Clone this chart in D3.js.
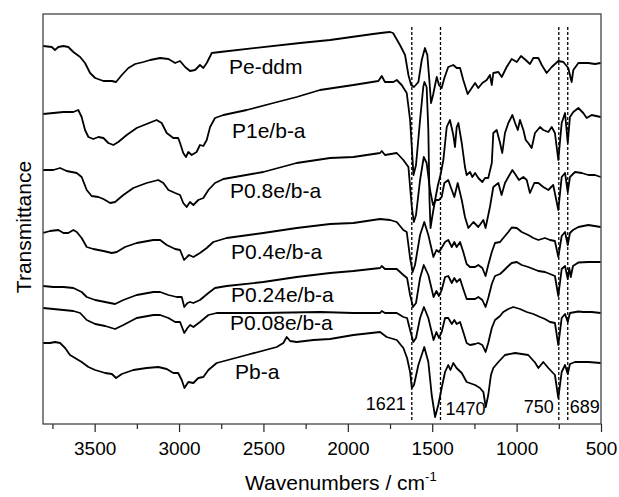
<!DOCTYPE html>
<html>
<head>
<meta charset="utf-8">
<script src="https://cdn.jsdelivr.net/npm/d3@7"></script>
<style>
  body { margin: 0; background: #fff; }
  text { font-family: "Liberation Sans", Arial, sans-serif; fill: #000; }
</style>
</head>
<body>
<script>
// FTIR spectra: [wavenumber (cm-1), transmittance (a.u., stacked)]
var peDdm = [[3805,37.8],[3754,37.7],[3735,37.4],[3715,37.7],[3685,37.8],[3656,37.7],[3626,37.2],[3586,36.7],[3557,36.1],[3527,35.1],[3497,34.6],[3448,34.3],[3398,34.3],[3373,34.2],[3339,34.9],[3300,35.6],[3260,36.0],[3211,36.2],[3171,36.4],[3112,36.6],[3063,36.5],[3023,36.1],[2994,36.3],[2964,35.7],[2935,35.3],[2905,35.4],[2876,35.9],[2856,35.6],[2836,36.1],[2806,37.1],[2757,37.2],[2283,38.1],[2105,38.4],[1851,39.0],[1780,39.15],[1750,39.2],[1732,39.1],[1691,37.9],[1661,36.9],[1641,34.9],[1625,33.9],[1608,33.7],[1582,34.2],[1562,36.4],[1543,37.6],[1529,36.9],[1517,34.4],[1507,32.1],[1495,32.9],[1483,33.9],[1473,34.7],[1460,33.9],[1444,33.6],[1428,34.6],[1405,35.7],[1375,35.9],[1355,35.6],[1335,35.6],[1316,34.4],[1290,33.0],[1266,33.6],[1246,34.1],[1227,33.6],[1203,34.1],[1177,34.4],[1158,34.9],[1147,33.9],[1138,35.1],[1108,35.2],[1088,34.7],[1059,35.7],[1029,36.5],[999,36.2],[974,36.8],[946,36.4],[921,36.0],[901,36.6],[871,36.6],[851,35.9],[822,35.1],[792,35.7],[753,36.3],[723,36.2],[694,35.6],[674,34.2],[664,35.4],[634,36.1],[575,36.1],[536,36.0],[502,36.1]];

var p1e = [[3805,31.0],[3745,31.1],[3685,31.2],[3626,31.2],[3597,31.4],[3577,30.7],[3557,29.4],[3537,28.7],[3508,28.5],[3478,28.7],[3448,28.6],[3419,28.1],[3389,27.9],[3360,28.2],[3310,28.9],[3251,29.6],[3192,30.0],[3133,30.4],[3103,30.1],[3073,29.1],[3034,28.6],[3005,28.6],[2994,28.1],[2975,27.1],[2959,26.7],[2945,27.2],[2925,26.9],[2896,27.2],[2876,27.9],[2856,27.8],[2836,28.4],[2816,29.7],[2787,30.6],[2737,30.9],[2599,31.4],[2441,32.1],[2303,32.7],[2165,33.4],[1967,33.9],[1819,34.3],[1799,34.8],[1780,34.2],[1730,34.2],[1710,34.4],[1681,33.9],[1651,33.1],[1631,30.4],[1611,24.9],[1596,25.9],[1572,30.4],[1553,33.7],[1546,34.2],[1533,33.7],[1523,29.4],[1516,22.4],[1510,19.6],[1501,20.6],[1483,22.4],[1466,23.9],[1451,24.9],[1434,26.4],[1414,29.7],[1395,30.4],[1375,28.9],[1365,27.7],[1355,29.7],[1345,30.1],[1325,28.1],[1306,25.7],[1296,24.9],[1276,25.2],[1262,24.7],[1246,25.1],[1227,24.6],[1203,24.2],[1187,24.6],[1168,24.6],[1147,26.1],[1138,29.1],[1118,29.4],[1098,28.1],[1085,27.1],[1069,29.1],[1049,30.1],[1025,30.9],[1009,30.1],[993,29.4],[980,30.4],[960,29.4],[946,28.4],[931,28.1],[911,27.6],[891,29.1],[861,29.7],[842,29.4],[812,29.2],[792,29.7],[773,29.1],[753,26.4],[733,30.1],[713,31.1],[697,28.1],[684,30.7],[664,31.2],[634,31.6],[605,31.1],[585,30.6],[555,30.9],[502,30.7]];

var p08e = [[3805,25.4],[3745,25.4],[3705,25.6],[3666,25.3],[3606,25.1],[3577,24.7],[3547,23.4],[3518,22.8],[3478,22.7],[3448,22.5],[3408,22.1],[3379,22.2],[3330,22.9],[3271,23.6],[3192,24.1],[3123,24.4],[3093,24.1],[3063,23.4],[3023,23.1],[2994,22.9],[2975,22.1],[2955,21.7],[2935,22.2],[2915,21.9],[2886,22.4],[2856,22.6],[2826,23.4],[2787,24.1],[2737,24.5],[2501,25.2],[2303,26.1],[2105,26.6],[1967,26.7],[1809,27.1],[1799,27.3],[1780,26.9],[1710,27.1],[1671,26.4],[1641,25.7],[1621,21.7],[1609,20.2],[1596,20.9],[1572,24.4],[1550,26.7],[1533,26.1],[1513,23.4],[1495,21.9],[1477,22.4],[1460,22.4],[1444,22.7],[1428,24.1],[1405,24.4],[1384,23.4],[1369,22.7],[1349,24.1],[1325,22.4],[1306,20.7],[1286,19.6],[1256,20.2],[1227,19.7],[1197,20.4],[1184,19.6],[1158,21.7],[1138,23.7],[1108,24.1],[1089,22.9],[1069,24.1],[1049,24.7],[1025,25.4],[1005,24.9],[986,24.4],[960,24.7],[940,24.4],[921,23.1],[895,24.1],[871,24.1],[842,23.7],[812,23.4],[783,23.9],[753,21.4],[733,24.7],[713,25.1],[697,23.2],[684,24.7],[654,25.2],[614,25.1],[575,24.9],[536,24.9],[502,24.7]];

var p04e = [[3805,19.1],[3764,19.3],[3715,19.4],[3685,19.1],[3656,19.1],[3626,19.4],[3606,19.2],[3577,18.6],[3547,17.7],[3508,17.5],[3448,17.3],[3398,17.1],[3369,17.2],[3320,17.7],[3251,18.1],[3152,18.4],[3112,18.4],[3073,17.9],[3023,17.5],[2994,17.4],[2970,16.4],[2953,16.7],[2941,16.9],[2915,16.7],[2876,17.1],[2836,17.6],[2797,18.2],[2718,18.6],[2501,19.1],[2303,19.6],[2105,20.0],[1967,20.1],[1809,20.5],[1750,20.4],[1710,20.2],[1671,19.4],[1651,19.2],[1631,16.6],[1616,15.2],[1602,15.9],[1572,18.9],[1547,20.2],[1523,18.9],[1493,16.7],[1475,17.4],[1460,17.2],[1445,17.6],[1424,18.2],[1405,18.4],[1384,17.7],[1369,18.2],[1355,17.7],[1335,18.2],[1316,17.2],[1296,16.0],[1276,15.7],[1246,15.7],[1227,15.9],[1203,15.6],[1184,14.8],[1168,15.9],[1147,17.2],[1128,18.1],[1098,18.2],[1079,18.6],[1049,19.2],[1029,19.65],[999,19.6],[970,19.2],[931,18.9],[901,18.6],[871,18.4],[832,18.6],[802,18.4],[773,18.3],[753,16.7],[733,18.8],[713,19.2],[697,17.9],[684,19.1],[666,19.4],[634,19.7],[575,19.9],[502,19.7]];

var p024e = [[3805,13.8],[3745,13.7],[3685,13.7],[3626,13.6],[3577,13.2],[3547,12.7],[3497,12.4],[3438,12.2],[3379,12.0],[3330,12.4],[3251,12.9],[3152,13.2],[3112,13.2],[3063,12.9],[3014,12.7],[2984,12.7],[2969,11.7],[2950,12.1],[2935,12.2],[2915,12.1],[2876,12.4],[2826,13.1],[2787,13.6],[2718,13.8],[2501,14.2],[2303,14.7],[2105,15.1],[1967,15.3],[1809,15.6],[1799,15.8],[1780,15.5],[1710,15.5],[1671,14.9],[1649,14.6],[1631,12.9],[1614,11.7],[1596,12.1],[1572,14.6],[1550,15.9],[1523,14.9],[1492,12.7],[1475,13.3],[1460,12.8],[1444,13.4],[1424,14.7],[1405,14.8],[1384,14.1],[1369,14.6],[1355,14.2],[1335,14.5],[1316,13.5],[1296,12.5],[1276,12.5],[1246,12.5],[1227,12.7],[1203,12.4],[1184,11.7],[1168,12.6],[1147,14.0],[1128,14.8],[1098,15.0],[1079,15.3],[1049,15.8],[1029,16.1],[999,16.2],[970,15.9],[931,15.7],[901,15.5],[871,15.3],[832,15.2],[802,15.0],[773,14.8],[753,12.8],[733,15.5],[713,15.8],[697,14.5],[688,15.6],[679,14.7],[666,15.8],[634,16.15],[575,16.2],[502,16.2]];

var p008e = [[3805,11.6],[3745,11.5],[3685,11.4],[3626,11.3],[3586,11.1],[3547,10.4],[3497,10.0],[3438,9.8],[3379,9.5],[3330,9.9],[3251,10.6],[3152,10.9],[3112,10.9],[3063,10.6],[3023,10.2],[2994,10.2],[2969,9.1],[2950,9.6],[2935,9.9],[2915,9.7],[2876,10.2],[2826,10.9],[2777,11.1],[2501,11.1],[2165,11.2],[1967,11.1],[1809,11.1],[1799,11.3],[1780,11.1],[1710,11.1],[1671,10.7],[1649,10.6],[1631,9.4],[1612,8.2],[1596,8.6],[1572,10.6],[1549,11.7],[1523,10.6],[1492,8.4],[1475,9.2],[1460,8.6],[1444,9.2],[1424,10.6],[1405,10.6],[1384,10.0],[1369,10.4],[1355,10.0],[1335,10.2],[1316,9.2],[1296,8.1],[1276,7.9],[1246,8.0],[1227,8.1],[1203,7.9],[1184,7.2],[1168,8.1],[1147,9.6],[1128,10.4],[1098,10.8],[1079,11.2],[1049,11.5],[1020,11.7],[980,11.5],[940,11.2],[901,11.0],[861,10.7],[832,10.5],[802,10.2],[773,10.1],[753,7.9],[733,10.6],[713,11.0],[697,10.2],[684,11.1],[634,11.25],[605,11.2],[555,11.2],[502,11.1]];

var pba = [[3805,8.1],[3764,8.1],[3735,8.2],[3705,8.1],[3675,7.6],[3646,6.9],[3616,6.6],[3577,6.2],[3537,5.7],[3497,5.4],[3438,5.1],[3398,5.0],[3373,4.6],[3339,5.0],[3271,5.4],[3192,5.6],[3123,5.7],[3073,5.5],[3034,5.1],[3005,5.1],[2984,4.4],[2968,3.6],[2945,4.2],[2915,4.1],[2886,4.6],[2856,4.7],[2826,5.4],[2777,6.1],[2599,6.9],[2421,7.7],[2382,8.1],[2362,8.7],[2342,8.3],[2303,8.2],[2204,8.4],[2105,8.5],[1967,8.9],[1809,9.2],[1770,8.7],[1710,8.4],[1671,7.6],[1649,6.6],[1631,5.2],[1621,3.6],[1608,3.9],[1582,5.9],[1547,7.7],[1523,6.2],[1503,2.9],[1483,0.7],[1464,1.9],[1444,3.6],[1424,5.2],[1405,5.9],[1392,5.4],[1375,6.1],[1356,5.6],[1325,5.1],[1296,4.2],[1246,3.9],[1217,3.6],[1197,3.2],[1183,1.7],[1168,2.9],[1152,4.9],[1138,5.6],[1108,6.2],[1069,6.9],[1009,7.1],[931,6.9],[891,6.15],[871,5.6],[842,6.2],[812,5.6],[773,4.9],[753,2.6],[733,5.2],[713,5.9],[697,5.0],[684,6.0],[654,6.2],[575,6.2],[502,6.1]];

var seriesNames = ["Pe-ddm", "P1e/b-a", "P0.8e/b-a", "P0.4e/b-a", "P0.24e/b-a", "P0.08e/b-a", "Pb-a"];
var seriesData = [peDdm, p1e, p08e, p04e, p024e, p008e, pba];

var xMajorTicks = [3500, 3000, 2500, 2000, 1500, 1000, 500];
var xMinorTicks = [3750, 3250, 2750, 2250, 1750, 1250, 750];

// dotted marker lines (where they sit in the figure) and their labels
var markerWn = [1621, 1451, 750, 697];
var markerLabels = ["1621", "1470", "750", "689"];

var svgWidth = 619;
var svgHeight = 497;

var chartMargin = { top: 14, right: 18, bottom: 73, left: 43 };
var chartWidth = svgWidth - chartMargin.left - chartMargin.right;
var chartHeight = svgHeight - chartMargin.top - chartMargin.bottom;

var svg = d3.select("body")
  .append("svg")
  .attr("width", svgWidth)
  .attr("height", svgHeight);

var chartGroup = svg.append("g")
  .attr("transform", `translate(${chartMargin.left}, ${chartMargin.top})`);

var xScale = d3.scaleLinear()
  .domain([3806, 500])
  .range([0, chartWidth]);

var yScale = d3.scaleLinear()
  .domain([0, 41])
  .range([chartHeight, 0]);

chartGroup.append("clipPath")
  .attr("id", "plot-clip")
  .append("rect")
  .attr("width", chartWidth)
  .attr("height", chartHeight);

// bottom axis: major ticks with labels, minor ticks without
var bottomAxis = d3.axisBottom(xScale)
  .tickValues(xMajorTicks)
  .tickSize(8)
  .tickPadding(9.5)
  .tickFormat(d3.format("d"));

var minorAxis = d3.axisBottom(xScale)
  .tickValues(xMinorTicks)
  .tickSize(5)
  .tickFormat("");

var xAxisGroup = chartGroup.append("g")
  .attr("transform", `translate(0, ${chartHeight})`)
  .call(bottomAxis);

var minorGroup = chartGroup.append("g")
  .attr("transform", `translate(0, ${chartHeight})`)
  .call(minorAxis);

[xAxisGroup, minorGroup].forEach(function(g) {
  g.select(".domain").remove();
  g.selectAll(".tick line").attr("stroke", "#222").attr("stroke-width", 1.2);
});
xAxisGroup.selectAll(".tick text")
  .style("font-size", "19px")
  .style("font-family", "'Liberation Sans', Arial, sans-serif")
  .attr("fill", "#000");

// dotted marker lines
chartGroup.selectAll(".marker")
  .data(markerWn)
  .enter()
  .append("line")
  .attr("class", "marker")
  .attr("x1", d => xScale(d))
  .attr("x2", d => xScale(d))
  .attr("y1", 13)
  .attr("y2", chartHeight - 4)
  .attr("stroke", "#000")
  .attr("stroke-width", 1.3)
  .attr("stroke-dasharray", "3,2");

// spectra
var line = d3.line()
  .x(d => xScale(d[0]))
  .y(d => yScale(d[1]));

chartGroup.append("g")
  .attr("clip-path", "url(#plot-clip)")
  .selectAll("path.spectrum")
  .data(seriesData)
  .enter()
  .append("path")
  .attr("class", "spectrum")
  .attr("d", line)
  .attr("fill", "none")
  .attr("stroke", "#000")
  .attr("stroke-width", 1.8)
  .attr("stroke-linejoin", "round");

// frame
chartGroup.append("rect")
  .attr("width", chartWidth)
  .attr("height", chartHeight)
  .attr("fill", "none")
  .attr("stroke", "#333")
  .attr("stroke-width", 1.2);

// series labels
var labelPos = [[186, 60], [189, 123.5], [187, 184], [188, 245], [188, 288], [187, 316], [192, 364.5]];
chartGroup.selectAll(".series-label")
  .data(seriesNames)
  .enter()
  .append("text")
  .attr("class", "series-label")
  .attr("x", (d, i) => labelPos[i][0])
  .attr("y", (d, i) => labelPos[i][1])
  .style("font-size", "21px")
  .text(d => d);

// marker labels
var markerAnchor = ["end", "start", "end", "start"];
var markerDx = [-6, 5, -5, 2];
var markerY = [396, 401, 399, 399];
chartGroup.selectAll(".marker-label")
  .data(markerLabels)
  .enter()
  .append("text")
  .attr("class", "marker-label")
  .attr("x", (d, i) => xScale(markerWn[i]) + markerDx[i])
  .attr("y", (d, i) => markerY[i])
  .attr("text-anchor", (d, i) => markerAnchor[i])
  .style("font-size", "18px")
  .text(d => d);

// axis titles
var xTitle = svg.append("text")
  .attr("x", 245)
  .attr("y", 490)
  .style("font-size", "21px");
xTitle.append("tspan").text("Wavenumbers / cm");
xTitle.append("tspan")
  .attr("dy", -9)
  .style("font-size", "13px")
  .text("-1");

svg.append("text")
  .attr("transform", "translate(31, 227) rotate(-90)")
  .attr("text-anchor", "middle")
  .style("font-size", "21px")
  .text("Transmittance");
</script>
</body>
</html>
